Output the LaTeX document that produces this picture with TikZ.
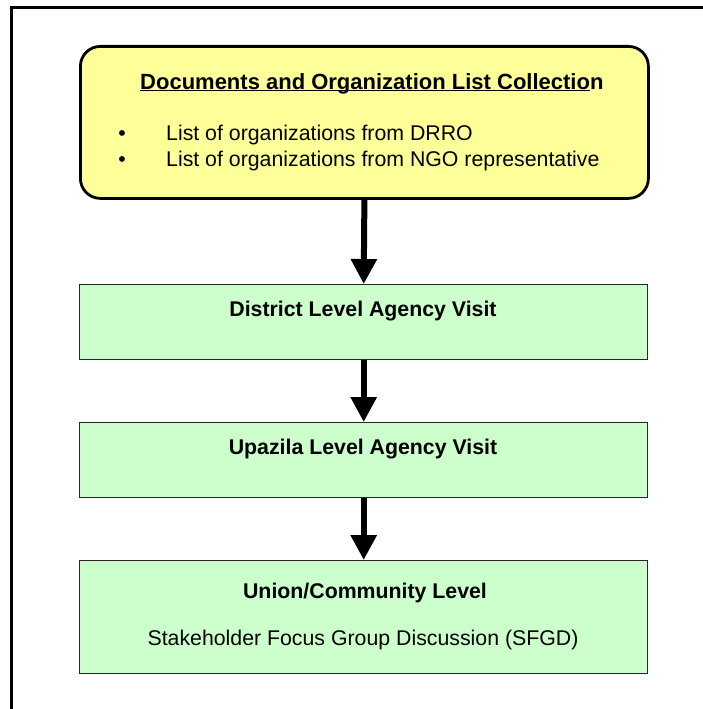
\documentclass[tikz,border=0pt]{standalone}
\usepackage{fontspec}
\setmainfont{Liberation Sans}
\usetikzlibrary{arrows.meta}

\definecolor{noteyellow}{HTML}{FFFF99}
\definecolor{stepgreen}{HTML}{CCFFCC}

% underline sitting just under the baseline, crossing the descenders
\newcommand\baseul[1]{\sbox0{#1}\rlap{\rule[-2pt]{\wd0}{1.3pt}}\usebox0}

\tikzset{
  noteframe/.style={line width=3pt, line cap=rect},
  notebox/.style={draw=black, line width=2.8pt, fill=noteyellow, rounded corners=20pt,
    minimum width=568pt, minimum height=152pt, inner sep=0pt, anchor=north west},
  stagebox/.style={draw=black!85, line width=1.4pt, fill=stepgreen,
    minimum width=568pt, inner sep=0pt, anchor=north west},
  titletext/.style={anchor=base west, inner sep=0pt, font=\fontsize{22}{26}\selectfont\bfseries},
  boldtext/.style={anchor=base, inner sep=0pt, font=\fontsize{21.3}{25}\selectfont\bfseries},
  plaintext/.style={anchor=base, inner sep=0pt, font=\fontsize{21.3}{25}\selectfont},
  flow/.style={line width=6pt, -{Triangle[length=25pt, width=25pt]}},
}

\begin{document}
\begin{tikzpicture}[x=1pt, y=-1pt]
\useasboundingbox (0,0) rectangle (702,709);

% outer frame (top and left edges)
\draw[noteframe] (11,709) -- (11,8) -- (702,8);

% boxes
\node[notebox] (docs) at (79,45) {};
\node[stagebox, minimum height=75pt] (district) at (79,284) {};
\node[stagebox, minimum height=75pt] (upazila) at (79,422) {};
\node[stagebox, minimum height=113pt] (union) at (79,560) {};

% texts of the first box
\node[titletext] (docstitle) at (140,89)
  {\baseul{Documents and Organization List Collectio}n};
\node[plaintext] (b1) at (122,140) {\textbullet};
\node[plaintext] (b2) at (122,166) {\textbullet};
\node[plaintext, anchor=base west] (l1) at (166,140) {List of organizations from DRRO};
\node[plaintext, anchor=base west] (l2) at (166,166) {List of organizations from NGO representative};

% texts of the stage boxes
\node[boldtext] (districttext) at (363,316) {District Level Agency Visit};
\node[boldtext] (upazilatext) at (363,454) {Upazila Level Agency Visit};
\node[boldtext] (uniontext) at (365,598) {Union/Community Level};
\node[plaintext] (sfgd) at (363,645) {Stakeholder Focus Group Discussion (SFGD)};

% connectors
\draw[flow] (docs.south) -- (district.north);
\draw[flow] (district.south) -- (upazila.north);
\draw[flow] (upazila.south) -- (union.north);
\end{tikzpicture}
\end{document}
